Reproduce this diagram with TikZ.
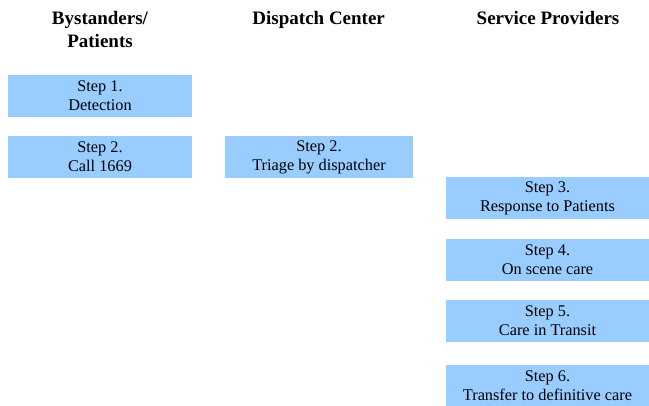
\documentclass[tikz,border=0pt]{standalone}
\usepackage{fontspec}
\setmainfont{Liberation Serif}
\usetikzlibrary{
  positioning,  % Function "of" (e.g. [below=of x])
}
\definecolor{stepblue}{RGB}{153,204,255}
\def\myvdist{19pt}
\tikzset{
  my head/.style={
    font=\bfseries\fontsize{19}{23}\selectfont,
    align=center,
    inner sep=0pt,
    anchor=north
  },
  my step/.style={
    fill=stepblue,
    minimum height=42pt,
    inner sep=0pt,
    outer sep=0pt,
    align=center,
    font=\fontsize{16.3}{19}\selectfont,
    execute at begin node={\rule{0pt}{15pt}}
  },
  my step left/.style={
    my step,
    minimum width=184pt
  },
  my step mid/.style={
    my step,
    minimum width=188pt
  },
  my step right/.style={
    my step,
    minimum width=203pt
  },
  lanes/.style={
    x=1pt,
    y=-1pt,
    node distance=\myvdist
  }
}
\begin{document}
\begin{tikzpicture}[lanes]
\useasboundingbox (0,0) rectangle (649,405);
% column heads
\node[my head] (hdbystanders) at (100,11.3) {Bystanders/\\Patients};
\node[my head] (hddispatch)   at (318.7,11.3) {Dispatch Center};
\node[my head] (hdservice)    at (548,11.3) {Service Providers};
% bystanders
\node[my step left] (step1) at (100,96) {Step 1.\\Detection};
\node[my step left, below=of step1] (step2a) {Step 2.\\Call 1669};
% dispatch
\node[my step mid] (step2b) at (319,157) {Step 2.\\Triage by dispatcher};
% service providers
\node[my step right] (step3) at (547.5,198) {Step 3.\\Response to Patients};
\node[my step right, below=20pt of step3] (step4) {Step 4.\\On scene care};
\node[my step right, below=of step4] (step5) {Step 5.\\Care in Transit};
\node[my step right, below=23pt of step5] (step6) {Step 6.\\Transfer to definitive care};
\end{tikzpicture}
\end{document}
